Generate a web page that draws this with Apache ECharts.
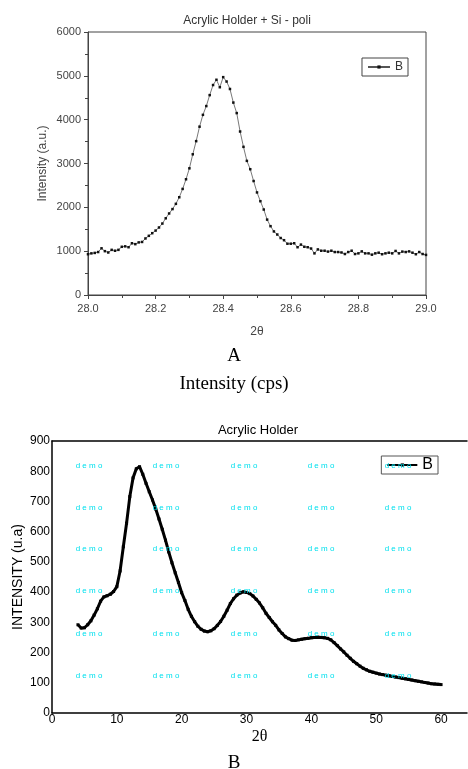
<!DOCTYPE html>
<html>
<head>
	<meta charset="utf-8" />
	<title>XRD</title>
	<script src="https://cdn.jsdelivr.net/npm/echarts@6/dist/echarts.min.js"></script>
	<style>
		body { margin: 0; background: #fff; }
		#chartA { position: absolute; left: 0; top: 0; width: 468px; height: 400px; }
		#chartB { position: absolute; left: 0; top: 400px; width: 468px; height: 369px; }
	</style>
</head>
<body>
	<div id="chartA"></div>
	<div id="chartB"></div>
<script>
	// A: Acrylic Holder + Si - poli
	var thetaA = [
		28.00, 28.01, 28.02, 28.03, 28.04, 28.05, 28.06, 28.07, 28.08, 28.09,
		28.10, 28.11, 28.12, 28.13, 28.14, 28.15, 28.16, 28.17, 28.18, 28.19,
		28.20, 28.21, 28.22, 28.23, 28.24, 28.25, 28.26, 28.27, 28.28, 28.29,
		28.30, 28.31, 28.32, 28.33, 28.34, 28.35, 28.36, 28.37, 28.38, 28.39,
		28.40, 28.41, 28.42, 28.43, 28.44, 28.45, 28.46, 28.47, 28.48, 28.49,
		28.50, 28.51, 28.52, 28.53, 28.54, 28.55, 28.56, 28.57, 28.58, 28.59,
		28.60, 28.61, 28.62, 28.63, 28.64, 28.65, 28.66, 28.67, 28.68, 28.69,
		28.70, 28.71, 28.72, 28.73, 28.74, 28.75, 28.76, 28.77, 28.78, 28.79,
		28.80, 28.81, 28.82, 28.83, 28.84, 28.85, 28.86, 28.87, 28.88, 28.89,
		28.90, 28.91, 28.92, 28.93, 28.94, 28.95, 28.96, 28.97, 28.98, 28.99,
		29.00
	];
	var intensityA = [
		930, 950, 960, 980, 1065, 1000, 970, 1030, 1010, 1030,
		1100, 1110, 1090, 1180, 1160, 1200, 1210, 1290, 1350, 1410,
		1470, 1540, 1630, 1750, 1860, 1960, 2080, 2230, 2420, 2640,
		2890, 3210, 3510, 3840, 4110, 4310, 4560, 4790, 4910, 4740,
		4970, 4870, 4700, 4390, 4150, 3730, 3380, 3060, 2870, 2600,
		2340, 2140, 1950, 1720, 1570, 1450, 1380, 1300, 1250, 1170,
		1170, 1180, 1090, 1150, 1100, 1090, 1060, 950, 1040, 1010,
		1010, 990, 1010, 980, 980, 970, 935, 980, 1010, 935,
		950, 995, 950, 950, 920, 950, 965, 930, 950, 965,
		950, 1005, 950, 990, 980, 995, 965, 930, 980, 935,
		915
	];

	// B: Acrylic Holder
	var thetaB = [
		4.0, 4.5, 5.0, 5.5, 6.0, 6.5, 7.0, 7.5, 8.0, 8.5, 9.0, 9.5,
		10.0, 10.5, 11.0, 11.5, 12.0, 12.5, 13.0, 13.5, 14.0, 14.5, 15.0, 15.5,
		16.0, 16.5, 17.0, 17.5, 18.0, 18.5, 19.0, 19.5, 20.0, 20.5, 21.0, 21.5,
		22.0, 22.5, 23.0, 23.5, 24.0, 24.5, 25.0, 25.5, 26.0, 26.5, 27.0, 27.5,
		28.0, 28.5, 29.0, 29.5, 30.0, 30.5, 31.0, 31.5, 32.0, 32.5, 33.0, 33.5,
		34.0, 34.5, 35.0, 35.5, 36.0, 36.5, 37.0, 37.5, 38.0, 38.5, 39.0, 39.5,
		40.0, 40.5, 41.0, 41.5, 42.0, 42.5, 43.0, 43.5, 44.0, 44.5, 45.0, 45.5,
		46.0, 46.5, 47.0, 47.5, 48.0, 48.5, 49.0, 49.5, 50.0, 50.5, 51.0, 51.5,
		52.0, 52.5, 53.0, 53.5, 54.0, 54.5, 55.0, 55.5, 56.0, 56.5, 57.0, 57.5,
		58.0, 58.5, 59.0, 59.5, 60.0
	];
	var intensityB = [
		292, 281, 282, 292, 305, 324, 345, 370, 384, 388, 393, 402,
		418, 470, 550, 628, 716, 778, 808, 815, 790, 760, 732, 705,
		675, 642, 608, 572, 533, 497, 464, 432, 398, 372, 343, 320,
		302, 287, 277, 271, 269, 272, 279, 290, 303, 320, 340, 362,
		378, 390, 397, 401, 399, 395, 387, 376, 364, 348, 330, 316,
		302, 290, 275, 263, 252, 246, 241, 240, 242, 244, 246, 247,
		249, 250, 251, 250, 249, 247, 242, 233, 223, 212, 202, 191,
		181, 171, 163, 155, 148, 143, 138, 135, 132, 129, 127, 125,
		123, 121, 119, 117, 115, 113, 111, 109, 107, 105, 103, 101,
		99, 97, 96, 95, 94
	];

	function pairs(xs, ys) {
		var out = [];
		for (var i = 0; i < xs.length; i++) out.push([xs[i], ys[i]]);
		return out;
	}

	var sans = 'Liberation Sans, Arial, sans-serif';
	var serif = 'Liberation Serif, Times New Roman, serif';

	var chartA = echarts.init(document.getElementById('chartA'));
	chartA.setOption({
		animation: false,
		title: {
			text: 'Acrylic Holder + Si - poli',
			left: 242, top: 10, textAlign: 'center',
			textStyle: { fontSize: 12, fontWeight: 'normal', color: '#333', fontFamily: sans }
		},
		grid: { left: 88, top: 32, width: 338, height: 263, outerBoundsMode: 'none',
			show: true, borderColor: '#444', borderWidth: 1 },
		legend: {
			data: ['B'], right: 60, top: 58,
			borderColor: '#444', borderWidth: 1, padding: [3, 5],
			itemWidth: 22, itemHeight: 4,
			textStyle: { fontSize: 12, color: '#333', fontFamily: sans }
		},
		xAxis: {
			type: 'value', min: 28, max: 29, interval: 0.2,
			name: '2θ', nameLocation: 'middle', nameGap: 31, nameMoveOverlap: false,
			nameTextStyle: { fontSize: 12, color: '#444', fontFamily: sans },
			axisLine: { lineStyle: { color: '#444' } },
			axisTick: { length: 4, lineStyle: { color: '#444' } },
			minorTick: { show: true, splitNumber: 2, length: 3, lineStyle: { color: '#444' } },
			splitLine: { show: false },
			axisLabel: { fontSize: 11, color: '#444', margin: 8, fontFamily: sans,
				formatter: function (v) { return v.toFixed(1); } }
		},
		yAxis: {
			type: 'value', min: 0, max: 6000, interval: 1000,
			name: 'Intensity (a.u.)', nameLocation: 'middle', nameGap: 39, nameMoveOverlap: false,
			nameTextStyle: { fontSize: 12, color: '#444', fontFamily: sans },
			axisLine: { show: true, lineStyle: { color: '#444' } },
			axisTick: { show: true, length: 4, lineStyle: { color: '#444' } },
			minorTick: { show: true, splitNumber: 2, length: 3, lineStyle: { color: '#444' } },
			splitLine: { show: false },
			axisLabel: { fontSize: 11, color: '#444', margin: 7, fontFamily: sans,
				formatter: function (v) { return String(v); } }
		},
		series: [{
			name: 'B', type: 'line',
			data: pairs(thetaA, intensityA),
			symbol: 'rect', symbolSize: 2.5,
			lineStyle: { width: 0.8, color: '#555' },
			itemStyle: { color: '#111' }
		}],
		graphic: [
			{ type: 'text', left: 'center', top: 347, style: { text: 'A', font: '19px ' + serif, fill: '#000' } },
			{ type: 'text', left: 'center', top: 375, style: { text: 'Intensity (cps)', font: '19px ' + serif, fill: '#000' } }
		]
	});

	// watermark grid of the demo software
	var wmX = [89, 166, 244, 321, 398];
	var wmY = [66, 108, 149, 191, 234, 276];
	var marks = [];
	for (var r = 0; r < wmY.length; r++) {
		for (var c = 0; c < wmX.length; c++) {
			marks.push({
				type: 'text', x: wmX[c], y: wmY[r], z: 100,
				style: { text: 'd e m o', font: '8px ' + sans, fill: '#00e0ee', align: 'center', verticalAlign: 'middle' }
			});
		}
	}
	marks.push({ type: 'text', left: 'center', top: 354, style: { text: 'B', font: '19px ' + serif, fill: '#000' } });

	var chartB = echarts.init(document.getElementById('chartB'));
	chartB.setOption({
		animation: false,
		title: {
			text: 'Acrylic Holder',
			left: 253, top: 19, textAlign: 'center',
			textStyle: { fontSize: 13, fontWeight: 'normal', color: '#000', fontFamily: sans }
		},
		grid: { left: 52, top: 41, width: 415, height: 272, outerBoundsMode: 'none' },
		legend: {
			data: ['B'], right: 30, top: 56,
			borderColor: '#555', borderWidth: 1, padding: [1, 5],
			itemWidth: 30, itemHeight: 4,
			textStyle: { fontSize: 16, color: '#000', fontFamily: sans }
		},
		xAxis: [{
			type: 'value', min: 0, max: 64, interval: 10,
			name: '2θ', nameLocation: 'middle', nameGap: 16, nameMoveOverlap: false,
			nameTextStyle: { fontSize: 16, color: '#000', fontFamily: serif },
			axisLine: { lineStyle: { color: '#000', width: 1.5 } },
			axisTick: { show: false },
			splitLine: { show: false },
			axisLabel: { fontSize: 12, color: '#000', margin: 1, fontFamily: sans,
				formatter: function (v) { return v % 10 === 0 ? v : ''; } }
		}, {
			type: 'value', min: 0, max: 64, position: 'top',
			axisLine: { show: true, lineStyle: { color: '#000', width: 1.5 } },
			axisTick: { show: false }, axisLabel: { show: false }, splitLine: { show: false }
		}],
		yAxis: {
			type: 'value', min: 0, max: 900, interval: 100,
			name: 'INTENSITY (u.a)', nameLocation: 'middle', nameGap: 27, nameMoveOverlap: false,
			nameTextStyle: { fontSize: 14, color: '#000', fontFamily: sans },
			axisLine: { show: true, lineStyle: { color: '#000', width: 1.5 } },
			axisTick: { show: false },
			splitLine: { show: false },
			axisLabel: { fontSize: 12, color: '#000', margin: 2, fontFamily: sans }
		},
		series: [{
			name: 'B', type: 'line',
			data: pairs(thetaB, intensityB),
			symbol: 'rect', symbolSize: 3,
			lineStyle: { width: 3, color: '#000' },
			itemStyle: { color: '#000' }
		}],
		graphic: marks
	});
</script>
</body>
</html>
